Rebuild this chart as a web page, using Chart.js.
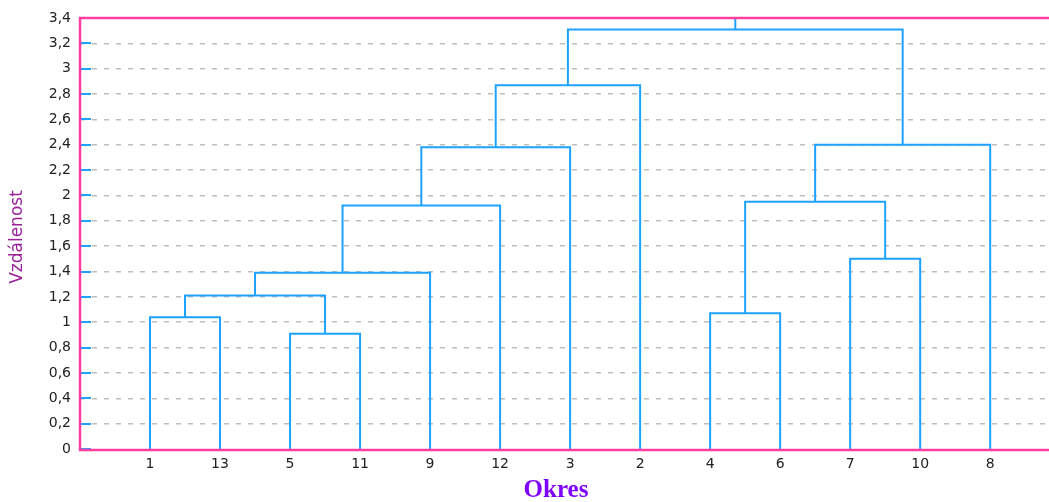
<!DOCTYPE html>
<html>
<head>
<meta charset="utf-8">
<script src="https://cdn.jsdelivr.net/npm/chart.js@4/dist/chart.umd.min.js"></script>
<style>
  html, body { margin: 0; padding: 0; background: #ffffff; }
  #wrap { width: 1049px; height: 502px; position: relative; }
</style>
</head>
<body>
<div id="wrap"><canvas id="c" width="1049" height="502"></canvas></div>
<script>
// Leaf order along the horizontal axis (district numbers)
const leafLabels = ['1', '13', '5', '11', '9', '12', '3', '2', '4', '6', '7', '10', '8'];

// Agglomeration steps: node ids 0..12 are leaves, each merge creates id 13, 14, ...
const mergeLeft   = [0, 2, 13, 15, 16, 17, 18, 8, 10, 20, 22, 19];
const mergeRight  = [1, 3, 14, 4, 5, 6, 7, 9, 11, 21, 12, 23];
const mergeHeight = [1.04, 0.91, 1.21, 1.39, 1.92, 2.38, 2.87, 1.07, 1.50, 1.95, 2.40, 3.31];

// Height the stem above the root reaches
const rootStemTop = 3.4;

// Vertical axis range and tick step
const yMin = 0, yMax = 3.4, yStep = 0.2;

const BLUE = '#1ea2ff';
const PINK = '#ff3ca0';

// Node positions: leaves at 1..n, merges at the midpoint of their children
const nodeX = leafLabels.map((_, i) => i + 1);
const nodeY = leafLabels.map(() => 0);
mergeHeight.forEach((h, k) => {
  const l = mergeLeft[k], r = mergeRight[k];
  nodeX.push((nodeX[l] + nodeX[r]) / 2);
  nodeY.push(h);
});

const datasets = mergeHeight.map((h, k) => {
  const l = mergeLeft[k], r = mergeRight[k];
  return {
    data: [
      { x: nodeX[l], y: nodeY[l] },
      { x: nodeX[l], y: h },
      { x: nodeX[r], y: h },
      { x: nodeX[r], y: nodeY[r] }
    ]
  };
});
const rootId = nodeX.length - 1;
datasets.push({
  data: [
    { x: nodeX[rootId], y: nodeY[rootId] },
    { x: nodeX[rootId], y: rootStemTop }
  ]
});
datasets.forEach(ds => Object.assign(ds, {
  showLine: true,
  borderColor: BLUE,
  borderWidth: 2,
  pointRadius: 0,
  fill: false,
  tension: 0,
  clip: 4
}));

// Frame lines, blue tick marks and axis titles
const framePlugin = {
  id: 'frame',
  afterDraw(chart) {
    const { ctx, chartArea: a, scales } = chart;
    ctx.save();
    ctx.lineCap = 'butt';
    ctx.strokeStyle = BLUE;
    ctx.lineWidth = 2;
    scales.y.ticks.forEach(t => {
      const y = Math.round(scales.y.getPixelForValue(t.value));
      ctx.beginPath();
      ctx.moveTo(a.left, y);
      ctx.lineTo(a.left + 11, y);
      ctx.stroke();
    });
    ctx.strokeStyle = PINK;
    ctx.lineWidth = 2.5;
    ctx.beginPath();
    ctx.moveTo(a.right, a.top);
    ctx.lineTo(a.left, a.top);
    ctx.lineTo(a.left, a.bottom + 1);
    ctx.lineTo(a.right, a.bottom + 1);
    ctx.stroke();

    ctx.fillStyle = '#8000ff';
    ctx.font = 'bold 25px "Liberation Serif", "DejaVu Serif", serif';
    ctx.textAlign = 'center';
    ctx.textBaseline = 'middle';
    ctx.fillText('Okres', 556, 491);

    ctx.translate(18, 237);
    ctx.rotate(-Math.PI / 2);
    ctx.fillStyle = '#992299';
    ctx.font = '17px "DejaVu Sans", sans-serif';
    ctx.fillText('Vzdálenost', 0, 0);
    ctx.restore();
  }
};

const tickFont = { family: '"DejaVu Sans", Verdana, sans-serif', size: 14 };

new Chart(document.getElementById('c'), {
  type: 'scatter',
  data: { datasets },
  plugins: [framePlugin],
  options: {
    responsive: false,
    animation: false,
    layout: { padding: { top: 18, right: 0, bottom: 0, left: 0 } },
    plugins: { legend: { display: false }, tooltip: { enabled: false } },
    scales: {
      x: {
        type: 'linear',
        min: 0,
        max: 13.84,
        afterBuildTicks(scale) {
          scale.ticks = leafLabels.map((_, i) => ({ value: i + 1 }));
        },
        afterFit(scale) { scale.height = 53; },
        grid: { display: false, drawTicks: false },
        border: { display: false },
        ticks: {
          autoSkip: false,
          maxRotation: 0,
          padding: 7,
          color: '#222',
          font: tickFont,
          callback: v => leafLabels[Math.round(v) - 1] || ''
        }
      },
      y: {
        min: yMin,
        max: yMax,
        afterFit(scale) { scale.width = 80; },
        grid: {
          color: ctx => (ctx.tick && (ctx.tick.value <= yMin || ctx.tick.value >= yMax)) ? 'rgba(0,0,0,0)' : '#bdbdbd',
          lineWidth: 1.5,
          drawTicks: false
        },
        border: { display: false, dash: [5, 7] },
        ticks: {
          stepSize: yStep,
          padding: 9,
          color: '#222',
          font: tickFont,
          callback: v => String(Math.round(v * 10) / 10).replace('.', ',')
        }
      }
    }
  }
});
</script>
</body>
</html>
